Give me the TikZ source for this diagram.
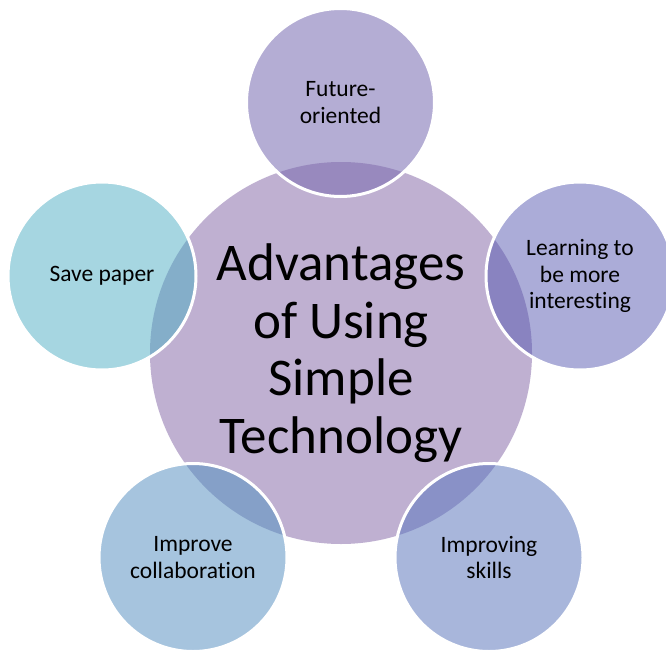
\documentclass[tikz,border=0pt]{standalone}
\usepackage{fontspec}
\setmainfont{Carlito}[Ligatures=NoCommon]
\definecolor{cmain}{RGB}{191,176,209}
\definecolor{cA}{RGB}{180,173,212}
\definecolor{oA}{RGB}{152,137,190}
\definecolor{cB}{RGB}{171,172,216}
\definecolor{oB}{RGB}{137,131,192}
\definecolor{cC}{RGB}{168,182,219}
\definecolor{oC}{RGB}{137,145,199}
\definecolor{cD}{RGB}{166,196,222}
\definecolor{oD}{RGB}{133,160,200}
\definecolor{cE}{RGB}{166,214,225}
\definecolor{oE}{RGB}{132,174,201}
\begin{document}
\begin{tikzpicture}[x=1pt,y=-1pt,
  hub/.style={circle, fill=cmain, minimum size=382pt, inner sep=0pt, align=center,
    font=\fontsize{53}{57.5}\selectfont},
  sat/.style={circle, minimum size=188pt, inner sep=0pt, align=center, draw=white,
    line width=3pt, font=\fontsize{23.5}{26.5}\selectfont,
    path picture={\fill[#1] (hub.center) circle (191);}}]
\clip (0,0) rectangle (666,650);
\fill[white] (0,0) rectangle (666,650);
\node[hub] (hub) at (341,353) {Advantages\\of Using\\Simple\\Technology};
\node[sat=oA, fill=cA] (s1) at (340.5,102.5) {Future-\\oriented};
\node[sat=oB, fill=cB] (s2) at (580,276) {Learning to\\be more\\interesting};
\node[sat=oC, fill=cC] (s3) at (489,557.5) {Improving\\skills};
\node[sat=oD, fill=cD] (s4) at (193,557.5) {Improve\\collaboration};
\node[sat=oE, fill=cE] (s5) at (102,276) {Save paper};
\end{tikzpicture}
\end{document}
